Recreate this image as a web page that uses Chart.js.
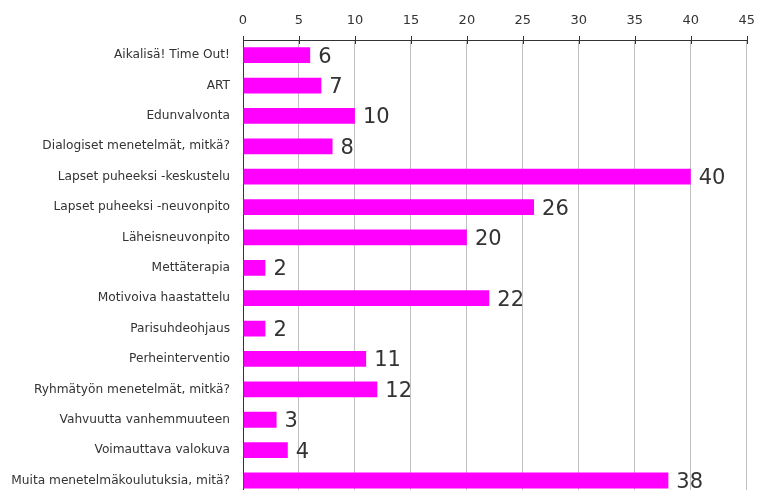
<!DOCTYPE html>
<html>
<head>
<meta charset="utf-8">
<script src="https://cdn.jsdelivr.net/npm/chart.js@4"></script>
<style>
  html, body { margin: 0; padding: 0; background: #fff; overflow: hidden; }
  #wrap { width: 757px; height: 490px; overflow: hidden; }
</style>
</head>
<body>
<div id="wrap"><canvas id="myChart" width="767" height="516"></canvas></div>
<script>
var categories = [
    "Aikalisä! Time Out!",
    "ART",
    "Edunvalvonta",
    "Dialogiset menetelmät, mitkä?",
    "Lapset puheeksi -keskustelu",
    "Lapset puheeksi -neuvonpito",
    "Läheisneuvonpito",
    "Mettäterapia",
    "Motivoiva haastattelu",
    "Parisuhdeohjaus",
    "Perheinterventio",
    "Ryhmätyön menetelmät, mitkä?",
    "Vahvuutta vanhemmuuteen",
    "Voimauttava valokuva",
    "Muita menetelmäkoulutuksia, mitä?"
];
var values = [6, 7, 10, 8, 40, 26, 20, 2, 22, 2, 11, 12, 3, 4, 38];
var xMax = 45;
var xStep = 5;

var textColor = "#333333";
var fontFamily = "'DejaVu Sans', sans-serif";

// value labels to the right of each bar
var valueLabels = {
    id: "valueLabels",
    afterDatasetsDraw: function (chart) {
        var ctx = chart.ctx;
        var meta = chart.getDatasetMeta(0);
        ctx.save();
        ctx.font = "21px " + fontFamily;
        ctx.fillStyle = textColor;
        ctx.textAlign = "left";
        ctx.textBaseline = "middle";
        meta.data.forEach(function (bar, i) {
            ctx.fillText(String(values[i]), bar.x + 8, bar.y + 2);
        });
        ctx.restore();
    }
};

// short tick marks crossing the top axis line
var innerTicks = {
    id: "innerTicks",
    afterDraw: function (chart) {
        var ctx = chart.ctx;
        var xs = chart.scales.x;
        var top = chart.chartArea.top;
        ctx.save();
        ctx.strokeStyle = textColor;
        ctx.lineWidth = 1;
        xs.ticks.forEach(function (t) {
            var px = Math.round(xs.getPixelForValue(t.value)) + 0.5;
            ctx.beginPath();
            ctx.moveTo(px, top - 4);
            ctx.lineTo(px, top + 4);
            ctx.stroke();
        });
        ctx.restore();
    }
};

var ctx = document.getElementById("myChart");
new Chart(ctx, {
    type: "bar",
    data: {
        labels: categories,
        datasets: [
            {
                data: values,
                backgroundColor: "#ff00ff",
                borderWidth: 0,
                barPercentage: 0.52,
                categoryPercentage: 1.0
            }
        ]
    },
    options: {
        indexAxis: "y",
        responsive: false,
        animation: false,
        layout: { padding: { top: 0, right: 0, bottom: 0, left: 0 } },
        plugins: {
            legend: { display: false },
            tooltip: { enabled: false }
        },
        scales: {
            x: {
                position: "top",
                min: 0,
                max: xMax,
                ticks: {
                    stepSize: xStep,
                    color: textColor,
                    font: { family: fontFamily, size: 13 },
                    padding: 12
                },
                grid: {
                    color: "#c0c0c0",
                    lineWidth: 1,
                    drawTicks: false
                },
                border: { color: textColor, width: 1 },
                afterFit: function (scale) { scale.height = 40; }
            },
            y: {
                ticks: {
                    color: textColor,
                    font: { family: fontFamily, size: 12.2 },
                    padding: 13
                },
                grid: { display: false, drawTicks: false },
                border: { color: textColor, width: 1 },
                afterFit: function (scale) { scale.width = 243; }
            }
        }
    },
    plugins: [valueLabels, innerTicks]
});
</script>
</body>
</html>
